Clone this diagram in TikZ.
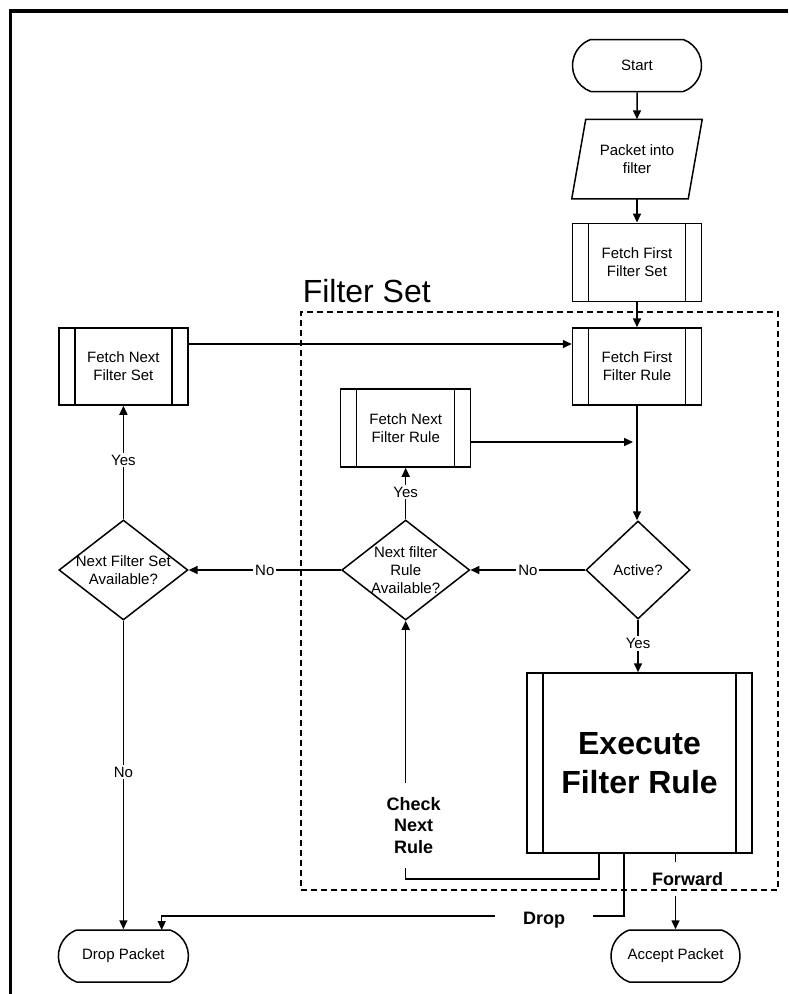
\documentclass[tikz,border=0pt]{standalone}
\usepackage{fontspec}
\setmainfont{Liberation Sans}
\usetikzlibrary{shapes.geometric,shapes.misc,arrows.meta,calc}
\newcommand\smallfs{\fontsize{15}{18}\selectfont}
\newcommand\boldfs{\fontsize{18}{21.5}\selectfont\bfseries}
\begin{document}
\begin{tikzpicture}[x=1pt, y=-1pt, line width=1.5pt,
  arr/.style={-{Triangle[length=9pt,width=8pt]}},
  proc/.style={draw, rectangle, minimum width=129pt, minimum height=78pt, inner sep=0pt,
    align=center, font=\smallfs,
    path picture={
      \draw[line width=1.5pt] ([xshift=16pt]path picture bounding box.north west) -- ([xshift=16pt]path picture bounding box.south west);
      \draw[line width=1.5pt] ([xshift=-16pt]path picture bounding box.north east) -- ([xshift=-16pt]path picture bounding box.south east);}},
  term/.style={draw, rounded rectangle, rounded rectangle arc length=140, minimum width=129pt,
    minimum height=52pt, inner sep=0pt, font=\smallfs},
  dia/.style={draw, diamond, inner sep=0pt},
  lbl/.style={fill=white, inner sep=2pt, font=\smallfs},
  blbl/.style={fill=white, inner sep=2pt, font=\boldfs, align=center}]

\useasboundingbox (0,0) rectangle (788,994);
\fill[white] (0,0) rectangle (788,994);
% frame
\draw[line width=3.5pt] (10.5,994) -- (10.5,11) -- (788,11);

% title
\node[anchor=base west, inner sep=0pt, font=\fontsize{32}{38}\selectfont] (fstitle) at (302,302) {Filter Set};

% nodes
\node[term] (start) at (637,65.5) {Start};
\node[minimum width=129pt, minimum height=78pt, inner sep=0pt, font=\smallfs, align=center] (pkt) at (637,159) {Packet into\\filter};
\draw ([xshift=14pt]pkt.north west) -- (pkt.north east) -- ([xshift=-14pt]pkt.south east) -- (pkt.south west) -- cycle;
\node[proc] (ffs) at (637,262.3) {Fetch First\\Filter Set};
\node[proc, minimum height=77pt] (ffr) at (637,366.5) {Fetch First\\Filter Rule};
\node[proc, minimum height=77pt] (fnfs) at (123.4,366.5) {Fetch Next\\Filter Set};
\node[proc, minimum width=130pt] (fnfr) at (405.7,428) {Fetch Next\\Filter Rule};
\node[dia, minimum width=104pt, minimum height=98pt,
  label={[font=\smallfs]center:Active?}] (act) at (638,570) {};
\node[dia, minimum width=128pt, minimum height=100pt,
  label={[font=\smallfs, align=center]center:Next filter\\Rule\\Available?}] (nfr) at (405.7,570) {};
\node[dia, minimum width=129pt, minimum height=100pt,
  label={[font=\smallfs, align=center]center:Next Filter Set\\Available?}] (nfs) at (123.4,570) {};
\node[proc, minimum width=225pt, minimum height=180pt, font=\fontsize{32}{39}\selectfont\bfseries] (exec) at (639.5,763) {Execute\\Filter Rule};
\node[term, minimum width=130pt] (drop) at (123.4,956) {Drop Packet};
\node[term] (acc) at (675.5,956) {Accept Packet};

% connectors
\draw[arr] (start) -- (pkt);
\draw[arr] (pkt) -- (ffs);
\draw[arr] (ffs) -- (ffr);
\draw[arr] (fnfs.east |- 0,344) -- (ffr.west |- 0,344);
\draw[arr] (ffr.south) -- (ffr.south |- act.north);
\coordinate (jn) at (633,442);
\draw[arr] (fnfr.east |- jn) -- (jn);
\draw[arr] (act.south) -- node[lbl, pos=0.45]{Yes} (act.south |- exec.north);
\draw[arr] (act.west) -- node[lbl]{No} (nfr.east);
\draw[arr] (nfr.west) -- node[lbl]{No} (nfs.east);
\draw[arr] (nfs.north) -- node[lbl, pos=0.52]{Yes} (fnfs.south);
\draw[arr] (nfr.north) -- node[lbl, pos=0.53]{Yes} (fnfr.south);
\draw[arr] (nfs.south) -- node[lbl, pos=0.49]{No} (drop.north);

% check next rule
\coordinate (cA) at (599,879);
\draw[arr] (exec.south -| cA) -- (cA) -- (cA -| nfr.south)
  -- node[blbl, pos=0.207, minimum height=85pt, xshift=8pt]{Check\\Next\\Rule} (nfr.south);
% drop
\coordinate (dA) at (624,916);
\coordinate (dT) at (161.7,930);
\draw[arr] (exec.south -| dA) -- (dA)
  -- node[blbl, pos=0.173, minimum width=98pt, yshift=-4pt]{Drop} (dA -| dT) -- (dT);
% forward
\draw[arr] (exec.south -| acc.north) -- node[blbl, pos=0.34, minimum height=34pt, xshift=12pt]{Forward} (acc.north);

% filter set boundary
\node[draw, dashed, dash pattern=on 6pt off 4pt, line width=1.3pt, minimum width=477pt, minimum height=578pt, inner sep=0pt] (fsbox) at (539.5,601) {};
\end{tikzpicture}
\end{document}
